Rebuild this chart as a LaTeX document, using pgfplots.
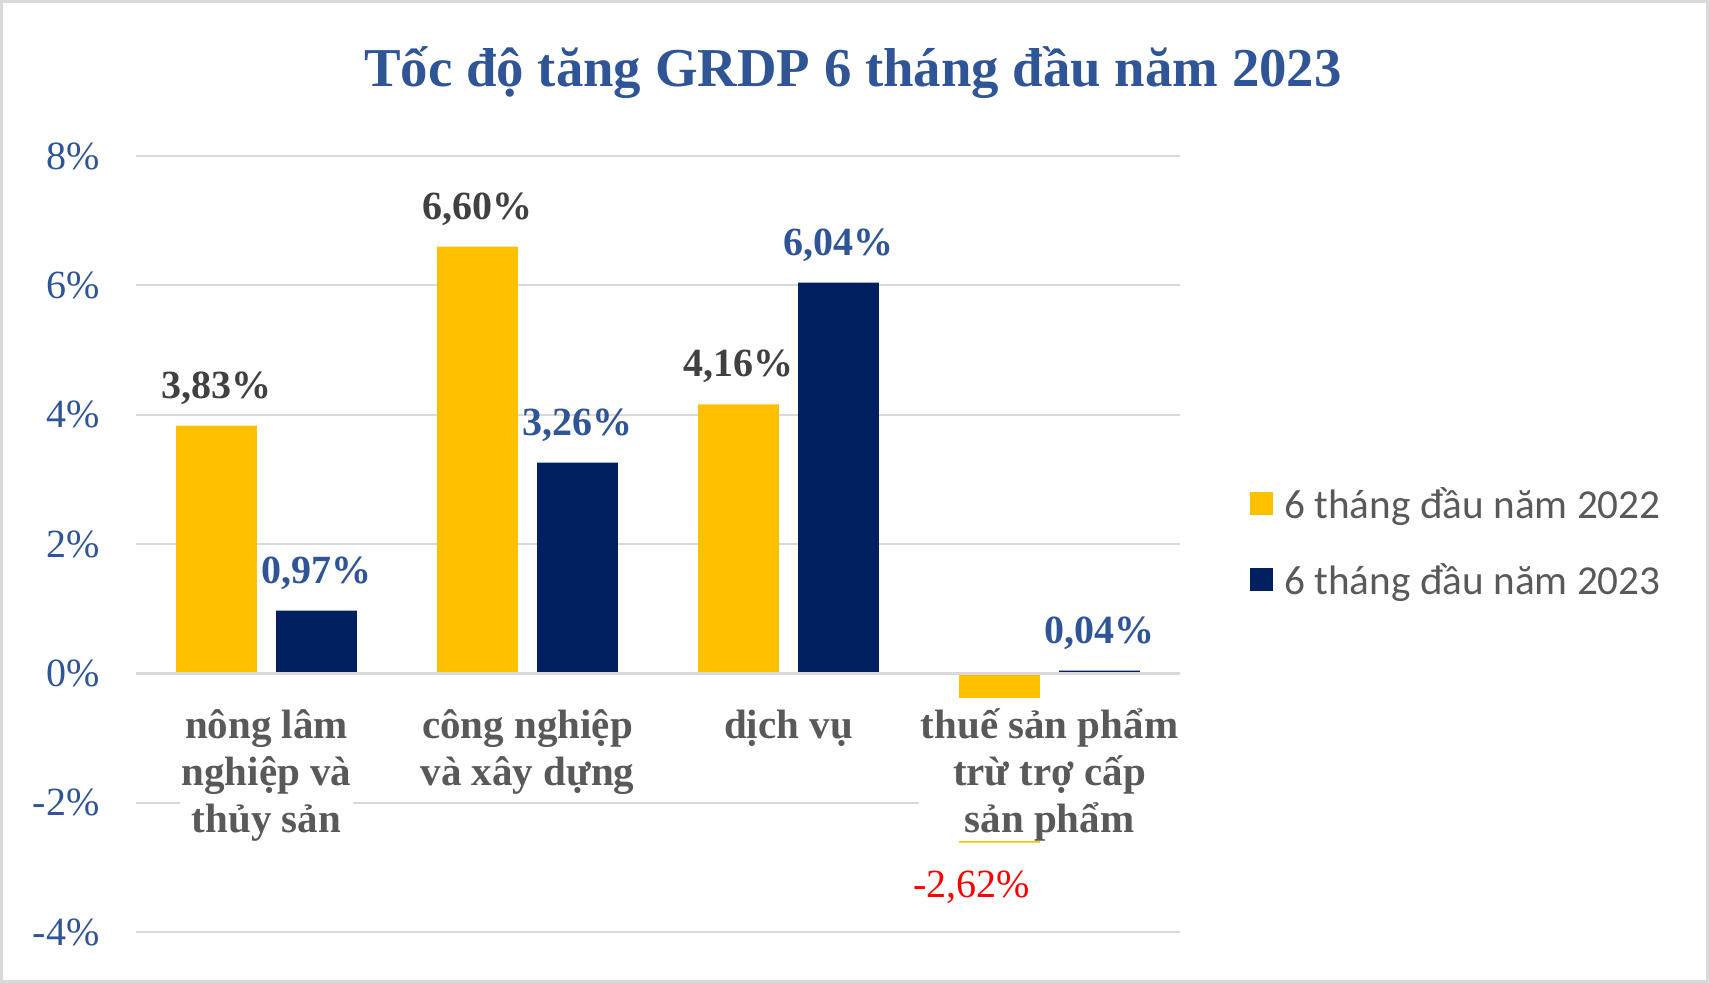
\documentclass[border=0pt]{standalone}
\usepackage{fontspec}
\setmainfont{Liberation Serif}
\newfontfamily\carlito{Carlito}
\usepackage{pgfplots}
\pgfplotsset{compat=1.18}
\definecolor{cy}{HTML}{FFC000}
\definecolor{cn}{HTML}{002060}
\definecolor{cblue}{HTML}{2F5597}
\definecolor{cdark}{HTML}{404040}
\definecolor{cgray}{HTML}{595959}
\definecolor{cgrid}{HTML}{D9D9D9}
\newcommand\fl{\rule{0pt}{20.5pt}}
\newcommand\ld{\rule[-4pt]{0pt}{4pt}}
\newcommand\neglab{\raisebox{-37.8pt}[0pt][0pt]{\makebox[0pt][c]{\kern-28pt\textcolor{red}{\mdseries -2,62\%}}}}
\begin{document}
\begin{tikzpicture}
\path (0,0) rectangle (854.5pt,491.5pt);
\draw[line width=1.5pt, cgrid] (0.75pt,0.75pt) rectangle (853.75pt,490.75pt);
\node[anchor=base, font=\fontsize{27.4}{30}\selectfont\bfseries, text=cblue, inner sep=0pt] at (426.5pt,448pt) {Tốc độ tăng GRDP 6 tháng đầu năm 2023};
\begin{axis}[
  set layers=standard,
  at={(68pt,25.5pt)}, anchor=south west,
  scale only axis, width=522pt, height=388pt,
  xmin=-0.5, xmax=3.5, ymin=-4, ymax=8,
  ybar=9.65pt, bar width=40.35pt,
  axis line style={draw=none},
  major tick length=0pt,
  ytick={-4,-2,...,8},
  yticklabels={-4\%,-2\%,0\%,2\%,4\%,6\%,8\%},
  yticklabel style={font=\fontsize{20}{24}\selectfont, text=cblue, xshift=-14.7pt},
  ymajorgrids,
  grid style={cgrid, line width=1pt},
  xtick={0,1,2,3},
  xticklabels={{\fl nông lâm\\nghiệp và\\thủy sản\ld},{\fl công nghiệp\\và xây dựng\ld},{\fl dịch vụ\ld},{\fl thuế sản phẩm\\trừ trợ cấp\\sản phẩm\ld}},
  xticklabel style={font=\fontsize{20.5}{23.5}\selectfont\bfseries, text=cgray, align=center, anchor=north, fill=white, inner xsep=1pt, inner ysep=0pt, yshift=117.33pt},
  legend style={at={(1.067,0.496)}, anchor=west, draw=none, fill=none, inner sep=0pt, row sep=19.5pt, column sep=5.5pt, font=\carlito\fontsize{20.6}{24}\selectfont, text=cgray, nodes={inner sep=0pt, text height=14pt, text depth=4.5pt}},
  legend cell align=left,
  nodes near coords,
  point meta=explicit symbolic,
  every node near coord/.append style={font=\fontsize{20}{24}\selectfont\bfseries, inner ysep=10.4pt, inner xsep=0pt},
]
\addplot[on layer=axis ticks, fill=cy, draw=none, every node near coord/.append style={text=cdark},
  legend image code/.code={\fill[cy] (0pt,-2.8pt) rectangle (11.5pt,8.7pt);}]
  coordinates {(0,3.83) [3,83\%] (1,6.60) [6,60\%] (2,4.16) [4,16\%] (3,-2.62) [\neglab]};
\addlegendentry{6 tháng đầu năm 2022}
\addplot[fill=cn, draw=none, every node near coord/.append style={text=cblue},
  legend image code/.code={\fill[cn] (0pt,-2.8pt) rectangle (11.5pt,8.7pt);}]
  coordinates {(0,0.97) [0,97\%] (1,3.26) [3,26\%] (2,6.04) [6,04\%] (3,0.04) [0,04\%]};
\addlegendentry{6 tháng đầu năm 2023}
\draw[cgrid, line width=1.75pt] (axis cs:-0.5,0) -- (axis cs:3.5,0);
\end{axis}
\end{tikzpicture}
\end{document}
